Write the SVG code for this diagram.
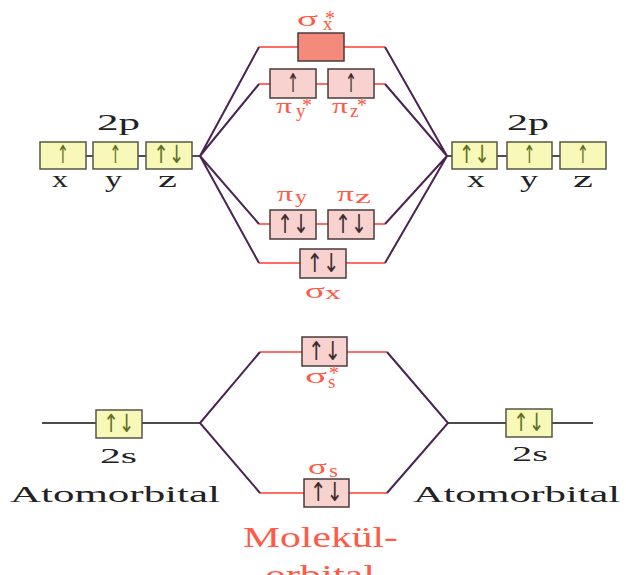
<svg xmlns="http://www.w3.org/2000/svg" width="626" height="575" viewBox="0 0 626 575">
<style>
.ao{fill:#f8f8b8;stroke:#555544;stroke-width:1.5}
.mo{fill:#f8d2cf;stroke:#4a3a3a;stroke-width:1.5}
.moe{fill:#f48a7c;stroke:#4a3a3a;stroke-width:1.5}
.blk{stroke:#111;stroke-width:1.5;fill:none}
.red{stroke:#ff3b30;stroke-width:1.5;fill:none}
.pur{stroke:#4a2452;stroke-width:2;fill:none}
.t{font-family:"Liberation Serif",serif;fill:#222}
.lbl{font-family:"Liberation Serif",serif;fill:#ff5a46}
.g{font-size:22px}
.sub{font-size:19px}
.st{font-size:20px}
.arA{font-family:"DejaVu Sans",sans-serif;font-size:25px;fill:#5f6e24;text-anchor:middle}
.arM{font-family:"DejaVu Sans",sans-serif;font-size:26px;fill:#3c2e2e;text-anchor:middle}
</style>
<g id="connectors">
<line class="blk" x1="62" y1="156" x2="200" y2="156"/>
<line class="blk" x1="447" y1="156" x2="583" y2="156"/>
<line class="blk" x1="42" y1="423" x2="200" y2="423"/>
<line class="blk" x1="448" y1="423" x2="593" y2="423"/>
<line class="red" x1="259" y1="47" x2="385" y2="47"/>
<line class="red" x1="259" y1="84" x2="385" y2="84"/>
<line class="red" x1="259" y1="224" x2="385" y2="224"/>
<line class="red" x1="259" y1="263" x2="385" y2="263"/>
<line class="red" x1="260" y1="352" x2="387" y2="352"/>
<line class="red" x1="260" y1="493" x2="387" y2="493"/>
<polyline class="pur" points="259,47 200,156 259,84"/>
<polyline class="pur" points="259,224 200,156 259,263"/>
<polyline class="pur" points="385,47 447,156 385,84"/>
<polyline class="pur" points="385,224 447,156 385,263"/>
<polyline class="pur" points="260,352 200,423 260,493"/>
<polyline class="pur" points="387,352 448,423 387,493"/>
</g>
<g id="left-2p">
<text class="t" x="97" y="130" font-size="23" textLength="43" lengthAdjust="spacingAndGlyphs">2p</text>
<rect class="ao" x="40" y="142" width="46" height="27"/>
<text class="arA" x="63" y="163" textLength="12" lengthAdjust="spacingAndGlyphs">↑</text>
<rect class="ao" x="93" y="142" width="45" height="27"/>
<text class="arA" x="115.5" y="163" textLength="12" lengthAdjust="spacingAndGlyphs">↑</text>
<rect class="ao" x="146" y="142" width="46" height="27"/>
<text class="arA" x="169" y="163" textLength="31" lengthAdjust="spacingAndGlyphs">↑↓</text>
<text class="t" x="52" y="187" font-size="24" textLength="16" lengthAdjust="spacingAndGlyphs">x</text>
<text class="t" x="105" y="187" font-size="24" textLength="17" lengthAdjust="spacingAndGlyphs">y</text>
<text class="t" x="158" y="187" font-size="24" textLength="19" lengthAdjust="spacingAndGlyphs">z</text>
</g>
<g id="right-2p">
<text class="t" x="507" y="130" font-size="23" textLength="42" lengthAdjust="spacingAndGlyphs">2p</text>
<rect class="ao" x="452" y="142" width="45" height="27"/>
<text class="arA" x="474.5" y="163" textLength="31" lengthAdjust="spacingAndGlyphs">↑↓</text>
<rect class="ao" x="507" y="142" width="45" height="27"/>
<text class="arA" x="529.5" y="163" textLength="12" lengthAdjust="spacingAndGlyphs">↑</text>
<rect class="ao" x="560" y="142" width="46" height="27"/>
<text class="arA" x="583" y="163" textLength="12" lengthAdjust="spacingAndGlyphs">↑</text>
<text class="t" x="467" y="187" font-size="24" textLength="18" lengthAdjust="spacingAndGlyphs">x</text>
<text class="t" x="520" y="187" font-size="24" textLength="18" lengthAdjust="spacingAndGlyphs">y</text>
<text class="t" x="573" y="187" font-size="24" textLength="20" lengthAdjust="spacingAndGlyphs">z</text>
</g>
<g id="sigma-x-star">
<rect class="moe" x="298" y="33" width="46" height="28"/>
<text class="lbl g" x="297" y="26" textLength="21" lengthAdjust="spacingAndGlyphs">σ</text>
<text class="lbl sub"><tspan x="323" y="30">x</tspan><tspan class="st" x="325" y="25">*</tspan></text>
</g>
<g id="pi-y-star">
<rect class="mo" x="270" y="69" width="46" height="29"/>
<text class="arM" x="293" y="92" textLength="12" lengthAdjust="spacingAndGlyphs">↑</text>
<text class="lbl g" x="276" y="113" textLength="16" lengthAdjust="spacingAndGlyphs">π</text>
<text class="lbl sub"><tspan x="296" y="117">y</tspan><tspan class="st" x="302" y="112">*</tspan></text>
</g>
<g id="pi-z-star">
<rect class="mo" x="328" y="69" width="46" height="29"/>
<text class="arM" x="351" y="92" textLength="12" lengthAdjust="spacingAndGlyphs">↑</text>
<text class="lbl g" x="332" y="113" textLength="16" lengthAdjust="spacingAndGlyphs">π</text>
<text class="lbl sub"><tspan x="350" y="117">z</tspan><tspan class="st" x="357" y="112">*</tspan></text>
</g>
<g id="pi-y">
<text class="lbl g" x="277" y="201" textLength="16" lengthAdjust="spacingAndGlyphs">π</text>
<text class="lbl sub" x="295" y="203" textLength="12" lengthAdjust="spacingAndGlyphs">y</text>
<rect class="mo" x="270" y="210" width="46" height="29"/>
<text class="arM" x="293" y="233" textLength="32" lengthAdjust="spacingAndGlyphs">↑↓</text>
</g>
<g id="pi-z">
<text class="lbl g" x="337" y="201" textLength="17" lengthAdjust="spacingAndGlyphs">π</text>
<text class="lbl sub" x="355" y="203" textLength="16" lengthAdjust="spacingAndGlyphs">z</text>
<rect class="mo" x="328" y="210" width="46" height="29"/>
<text class="arM" x="351" y="233" textLength="32" lengthAdjust="spacingAndGlyphs">↑↓</text>
</g>
<g id="sigma-x">
<rect class="mo" x="300" y="249" width="46" height="29"/>
<text class="arM" x="323" y="272" textLength="33" lengthAdjust="spacingAndGlyphs">↑↓</text>
<text class="lbl g" x="305" y="298" textLength="20" lengthAdjust="spacingAndGlyphs">σ</text>
<text class="lbl sub" x="325" y="299" textLength="16" lengthAdjust="spacingAndGlyphs">x</text>
</g>
<g id="sigma-s-star">
<rect class="mo" x="302" y="337" width="45" height="29"/>
<text class="arM" x="324.5" y="360" textLength="33" lengthAdjust="spacingAndGlyphs">↑↓</text>
<text class="lbl g" x="305" y="383" textLength="22" lengthAdjust="spacingAndGlyphs">σ</text>
<text class="lbl sub"><tspan x="328" y="388">s</tspan><tspan class="st" x="329" y="380">*</tspan></text>
</g>
<g id="sigma-s">
<text class="lbl g" x="308" y="474" textLength="19" lengthAdjust="spacingAndGlyphs">σ</text>
<text class="lbl sub" x="329" y="477" textLength="9" lengthAdjust="spacingAndGlyphs">s</text>
<rect class="mo" x="304" y="479" width="45" height="28"/>
<text class="arM" x="326.5" y="501" textLength="33" lengthAdjust="spacingAndGlyphs">↑↓</text>
</g>
<g id="left-2s">
<rect class="ao" x="96" y="410" width="46" height="28"/>
<text class="arA" x="119" y="432" textLength="31" lengthAdjust="spacingAndGlyphs">↑↓</text>
<text class="t" x="100" y="463" font-size="22" textLength="37" lengthAdjust="spacingAndGlyphs">2s</text>
</g>
<g id="right-2s">
<rect class="ao" x="506" y="409" width="46" height="28"/>
<text class="arA" x="529" y="431" textLength="31" lengthAdjust="spacingAndGlyphs">↑↓</text>
<text class="t" x="512" y="461" font-size="22" textLength="36" lengthAdjust="spacingAndGlyphs">2s</text>
</g>
<g id="labels">
<text class="t" x="10" y="502" font-size="23" textLength="210" lengthAdjust="spacingAndGlyphs">Atomorbital</text>
<text class="t" x="413" y="502" font-size="23" textLength="207" lengthAdjust="spacingAndGlyphs">Atomorbital</text>
<text class="lbl" x="243" y="547" font-size="29" textLength="155" lengthAdjust="spacingAndGlyphs">Molekül-</text>
<text class="lbl" x="265" y="585" font-size="29" textLength="110" lengthAdjust="spacingAndGlyphs">orbital</text>
</g>
</svg>
